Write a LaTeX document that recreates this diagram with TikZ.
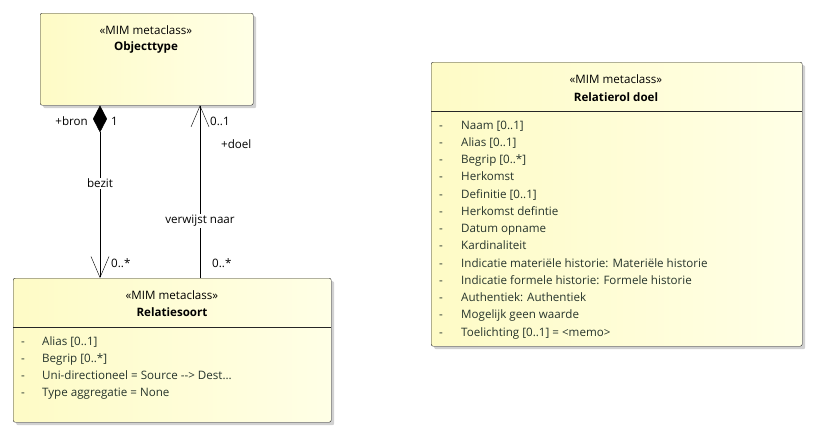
\documentclass[tikz,border=0pt]{standalone}
\usepackage{fontspec}
\setmainfont{Open Sans}
\usetikzlibrary{arrows.meta}
\usetikzlibrary{positioning}
\usetikzlibrary{shadows}
\definecolor{boxedge}{rgb}{0.15,0.15,0.15}
\definecolor{attrtext}{RGB}{38,52,44}
\definecolor{classleft}{RGB}{254,251,198}
\definecolor{classright}{RGB}{255,255,230}

\begin{document}
\begin{tikzpicture}[x=1pt,y=-1pt,
classbox/.style ={shape=rectangle, draw=boxedge, rounded corners=2pt, anchor=north west,
  left color=classleft, right color=classright,
  drop shadow={shadow xshift=3pt, shadow yshift=-3pt, fill=black, opacity=0.18}},
stereo/.style ={font=\fontsize{11.6}{14}\selectfont},
cname/.style ={font=\fontsize{11.6}{14}\selectfont\bfseries},
attr/.style ={anchor=base west, inner sep=0pt, text=attrtext, font=\fontsize{11.6}{14}\selectfont},
lbl/.style ={inner sep=1pt, font=\fontsize{11.6}{14}\selectfont},
aggr/.style ={{Diamond[length=27pt,width=14pt]}-{Straight Barb[length=21pt,width=18pt]}},
assoc/.style ={-{Straight Barb[length=21pt,width=18pt]}},
auto]
\useasboundingbox (0,0) rectangle (820,439);
% classes
\node[classbox, minimum width=213pt, minimum height=92pt] (obj) at (40,13) {};
\node[classbox, minimum width=318pt, minimum height=144pt] (rs) at (13,278) {};
\node[classbox, minimum width=371pt, minimum height=284pt] (rol) at (431,62) {};
\draw[boxedge] ([yshift=-49pt]rs.north west) -- ([yshift=-49pt]rs.north east);
\draw[boxedge] ([yshift=-49pt]rol.north west) -- ([yshift=-49pt]rol.north east);
\node[stereo] (objst) at (146,30) {«MIM metaclass»};
\node[cname] (objnm) at (146,47) {Objecttype};
\node[stereo] (rsst) at (172,295) {«MIM metaclass»};
\node[cname] (rsnm) at (172,312) {Relatiesoort};
\node[stereo] (rolst) at (616,79) {«MIM metaclass»};
\node[cname] (rolnm) at (616,97) {Relatierol doel};
\foreach \t [count=\i] in {{Alias [0..1]},{Begrip [0..*]},
  {Uni-directioneel = Source -{}-> Dest…},{Type aggregatie = None}} {
  \node[attr] (rsd\i) at (21,345+17.2*\i-17.2) {-};
  \node[attr] (rsa\i) at (42,345+17.2*\i-17.2) {\t};
}
\foreach \t [count=\i] in {{Naam [0..1]},{Alias [0..1]},{Begrip [0..*]},{Herkomst},
  {Definitie [0..1]},{Herkomst defintie},{Datum opname},{Kardinaliteit},
  {Indicatie materiële historie: Materiële historie},
  {Indicatie formele historie: Formele historie},{Authentiek: Authentiek},
  {Mogelijk geen waarde},{Toelichting [0..1] = <memo>}} {
  \node[attr] (rold\i) at (439,129+17.25*\i-17.25) {-};
  \node[attr] (rola\i) at (461,129+17.25*\i-17.25) {\t};
}
% connectors
\draw[aggr] ([xshift=60pt]obj.south west) -- node[lbl, pos=0.45, fill=white, anchor=center] (bezit) {bezit} ([xshift=87pt]rs.north west);
\draw[assoc] ([xshift=187pt]rs.north west) -- node[lbl, pos=0.33, fill=white, anchor=center] (verw) {verwijst naar} ([xshift=160pt]obj.south west);
\node[lbl, anchor=east] (bron) at (89,121) {+bron};
\node[lbl, anchor=west] (bronm) at (110,121) {1};
\node[lbl, anchor=west] (rsm1) at (110,263) {0..*};
\node[lbl, anchor=west] (doelm) at (209,121) {0..1};
\node[lbl, anchor=west] (doel) at (220,144) {+doel};
\node[lbl, anchor=west] (rsm2) at (211,263) {0..*};
\end{tikzpicture}
\end{document}
